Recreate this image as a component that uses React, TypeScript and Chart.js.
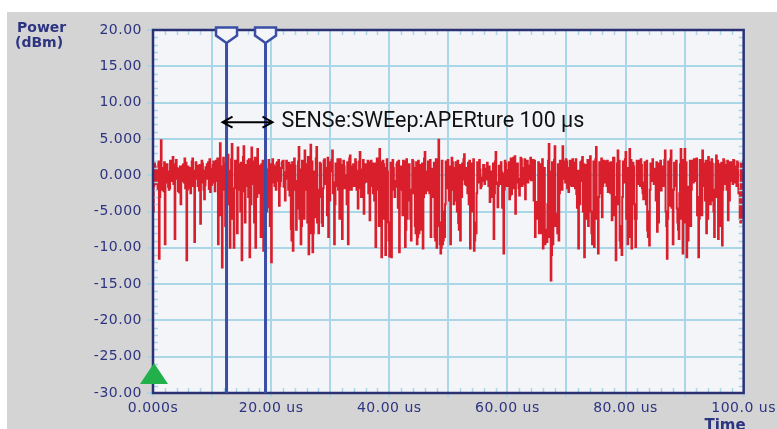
import { useEffect, useRef } from "react";
import { Chart, registerables } from "chart.js";
Chart.register(...registerables);

// ---- data ----
// samples every 1/9 µs, stored as three interleaved runs:
// powerDbm[k] at 3k, powerDbmMid[k] at 3k+1, powerDbmLate[k] at 3k+2
const sampleStepUs = 1 / 9;
const powerDbm = [
  -5.0, 1.2, 0.3, -11.5, 4.8, -1.0, -9.5, 1.5, -2.0, 0.8,
  2.5, -8.8, 1.0, -1.5, -4.0, 1.3, 2.3, -11.7, 0.5, -2.5,
  2.3, -9.2, 1.1, -1.2, -6.7, 1.6, -3.3, 0.9, 1.8, -2.3,
  0.7, -1.0, 2.0, -9.5, 4.4, -12.7, 1.5, -3.0, 2.8, -10.0,
  4.3, -10.0, 1.2, 3.8, -2.0, -11.7, 4.0, -1.5, 2.0, -11.3,
  3.8, -0.5, -10.0, 3.6, -2.5, 1.5, -10.4, 3.8, 0.8, -4.4,
  -12.0, 1.4, 0.2, 1.8, -4.2, 1.0, 2.0, -3.5, 0.6, 1.7,
  -7.4, -10.4, 1.3, -4.6, 3.9, -9.5, -5.3, 3.4, 0.4, -10.9,
  4.2, -10.6, -5.8, 3.9, -8.0, 1.5, -7.0, 2.2, 0.3, -8.5,
  1.8, 3.4, -9.5, 1.0, -2.0, 2.2, -8.8, 1.2, 0.0, -9.5,
  2.7, 1.0, -1.5, 1.8, -4.6, 3.2, 0.8, -5.3, 1.5, 2.0,
  -6.2, 0.9, 1.6, -9.9, 1.2, 3.6, -11.3, 1.5, -11.0, 0.5,
  -11.2, -11.3, 1.0, -1.6, 1.8, -10.6, 1.2, 2.0, -9.9, -6.0,
  1.5, -9.0, 1.9, -7.0, -9.5, -8.0, 1.4, -10.1, 3.2, -2.1,
  1.5, -8.5, 0.9, -8.5, -10.0, 4.9, -10.8, -9.5, -8.5, 1.2,
  -0.7, -9.5, 1.8, 1.0, -3.5, -6.6, -9.0, 1.6, 2.9, -1.4,
  1.7, -10.1, 1.3, -10.4, -8.0, 1.5, 0.8, -0.3, 1.4, 0.2,
  0.9, -3.7, 0.5, -8.8, 3.2, -4.4, 1.1, 0.4, -10.8, 1.6,
  0.7, -3.3, -2.6, 2.4, -5.3, 1.6, -2.8, 2.2, 1.0, -3.3,
  2.0, 1.3, -0.7, 2.1, -8.5, -3.7, -8.0, 1.5, -10.1, -9.5,
  -9.2, 4.3, -14.5, -9.5, 4.0, -5.3, -9.0, 1.2, 4.0, 0.8,
  1.9, -2.3, -1.4, 2.2, 1.1, -2.6, -10.1, 1.8, 2.5, -11.3,
  1.4, -7.0, 2.6, -9.5, -9.9, 3.9, -10.8, 1.5, -5.8, 2.0,
  0.8, -2.3, 1.7, -6.2, 2.4, -11.7, 3.4, -9.0, -11.0, 1.3,
  3.2, -9.5, 3.6, -10.1, 1.2, -9.9, -1.2, 2.0, 1.4, -3.3,
  1.7, -7.6, -9.7, 1.5, 0.9, 0.0, -7.8, 1.6, -2.1, 1.0,
  3.4, -11.5, -4.2, 3.4, -9.5, 1.3, -4.6, -8.8, 3.6, -10.8,
  3.6, -11.3, -1.6, -7.0, 2.0, 1.2, 2.3, -11.3, -4.0, 3.4,
  1.4, -8.0, 2.5, -4.0, 1.6, -8.5, 2.7, -8.8, 1.5, -9.7,
  1.9, 0.8, -6.2, 1.8, 1.1, 2.0, -0.5, 1.7, -6.0, -6.2, 1.8,
];
const powerDbmMid = [
  -1.5, 0.8, -2.0, -3.0, 1.0, -2.2, -1.0, 0.5, -1.8, 1.2,
  -1.2, -0.5, 0.9, -2.4, -0.8, 1.5, -1.8, -2.0, 1.0, -0.6,
  -1.5, -0.5, 1.3, -2.1, -1.0, 0.6, -1.4, 1.5, -1.9, 0.9,
  1.4, -2.2, -0.8, -1.0, -3.5, -2.0, -1.2, 0.8, -4.0, -2.5,
  -6.0, -1.8, 0.5, -1.0, -5.0, -1.5, -2.2, 1.4, -3.0, -2.0,
  -1.2, -6.5, -2.2, -0.5, -1.8, -4.5, -1.0, -2.4, -1.0, -7.0,
  -1.0, 1.2, -2.0, -0.8, -1.5, 1.7, -1.6, -0.5, 1.4, -2.8,
  -9.0, -2.0, -1.5, -0.8, -6.0, -7.0, -1.0, -2.0, -6.5, -3.0,
  -4.5, -8.0, -1.5, -6.5, -2.0, -3.0, -1.8, -1.2, -5.5, -2.0,
  0.5, -2.5, -4.0, -1.5, 0.8, -5.5, -1.5, -1.8, -4.0, -2.0,
  -0.5, 1.2, -1.0, -2.0, -0.8, -1.8, -2.5, -1.0, 0.4, -2.5,
  -1.5, -0.4, -3.5, -2.0, -1.0, -5.0, -2.5, -6.0, -4.0, -6.5,
  -8.0, -2.0, -0.8, -1.0, -4.5, -2.0, 0.6, -3.5, -7.5, -2.0,
  -3.5, -2.0, -2.5, -8.0, -8.5, -3.0, -4.5, -3.0, -2.5, -1.0,
  -2.5, -1.5, -3.0, -9.0, -7.0, -6.5, -10.0, -9.0, -4.0, -1.8,
  -3.5, -2.0, 0.8, -1.2, -5.0, -7.5, -2.5, -0.6, -1.2, -0.5,
  -4.0, -2.5, -5.0, -9.0, -2.5, -1.0, -1.8, -0.8, -1.2, -0.6,
  -1.5, -1.0, -3.0, -2.5, -1.0, -1.5, -1.2, -4.5, -2.0, -0.5,
  -1.2, -2.8, -1.0, -1.8, -1.0, -1.0, -0.5, -1.5, -1.2, -0.8,
  -1.0, 0.5, 0.8, -3.5, -6.0, -5.5, -2.5, -7.0, -9.5, -8.0,
  -4.0, -8.5, -11.0, -3.5, -7.0, -8.0, -2.5, -1.5, -0.5, -1.0,
  -1.8, -0.6, 0.5, -1.5, -1.8, -4.5, -3.0, -0.8, -5.0, -2.5,
  -3.5, -2.0, -5.0, -9.0, -2.0, -6.0, -3.0, -2.5, -1.5, -1.0,
  -1.5, -0.8, -2.5, -1.8, -5.5, -3.0, -4.0, -10.0, -3.0, -1.0,
  -6.0, -2.0, -5.5, -3.5, -4.0, -6.0, 0.2, -1.5, -1.8, -1.0,
  -4.0, -8.5, -2.0, -0.8, -1.2, -3.5, -2.5, -1.0, -0.8, -1.5,
  -5.0, -6.0, -1.0, -4.5, -2.0, -1.5, -6.5, -2.5, -6.0, -4.0,
  -6.5, -4.0, -4.5, -2.0, -1.0, -0.8, -5.5, -6.0, -1.0, -1.5,
  -3.5, -2.0, -1.2, -1.5, -3.5, -2.0, -3.0, -2.0, -4.5, -2.0,
  -1.2, -2.0, -1.5, -0.8, -1.2, -1.0, -1.5, -2.5, -6.5, -2.0,
];
const powerDbmLate = [
  1.6, -1.2, 1.9, 0.5, -2.0, 1.8, 0.2, -1.6, 2.0, -0.8,
  1.5, 2.1, -2.2, 1.2, 0.4, -1.0, 1.7, 1.2, -1.8, 1.9,
  0.6, 1.8, -1.5, 1.4, 2.0, -2.0, 1.1, -0.5, 2.2, -1.3,
  1.9, 0.8, 2.3, -5.5, 1.2, 2.4, -7.0, 1.9, 0.6, 2.2,
  -3.5, 2.0, -8.0, 1.5, 1.7, 2.5, -6.5, 1.0, 2.2, -4.0,
  1.9, 2.4, -3.0, 1.3, -8.5, 2.0, 1.2, -5.0, 2.1, 1.5,
  2.2, -1.5, 1.6, 2.1, -0.8, 1.9, 0.4, 2.0, -2.0, 1.4,
  1.8, 2.3, -7.5, 1.9, 0.8, 2.0, -6.0, 1.5, 2.5, -8.0,
  1.9, 0.5, 2.3, -5.0, 1.7, -6.5, 2.0, 1.0, 2.4, -3.5,
  2.1, -1.0, 1.6, 2.2, -6.0, 1.4, 2.0, -1.2, 1.8, 2.3,
  -2.0, 1.5, 2.2, 0.6, 1.9, -3.0, 2.1, 1.2, -0.9, 1.8,
  2.0, -2.5, 1.6, 2.3, -7.0, 1.8, 2.0, 1.0, 2.2, -9.0,
  1.7, 2.1, -3.0, 1.5, 2.0, 0.8, -5.5, 1.9, 2.2, 1.4,
  -6.0, 2.1, 1.0, 1.8, 2.0, -7.5, 1.6, 2.3, 0.5, 1.9,
  2.1, -2.0, 1.7, 2.2, 1.5, -9.5, 2.0, -5.0, 1.9, 2.1,
  1.2, 2.4, -4.0, 1.8, 2.0, 1.4, -3.0, 2.2, 1.0, -2.5,
  2.0, 1.6, 2.2, -6.5, 1.8, 2.1, -1.5, 1.4, 0.9, 1.7,
  1.2, -0.6, 1.6, 1.9, -1.2, 1.3, 1.8, 0.2, 2.0, -1.5,
  1.8, 2.3, 0.9, 2.6, 1.5, -1.8, 2.4, 0.6, 2.2, 1.8,
  -0.5, 2.4, 1.6, 2.0, -6.0, 1.8, -8.0, 2.2, 1.0, -7.5,
  2.0, 0.5, 1.8, 2.1, -6.5, 1.5, 2.0, -2.0, 1.9, 2.2,
  1.0, 2.0, -1.5, 1.7, 2.2, 0.6, -4.0, 2.0, 1.5, -6.0,
  2.1, 1.4, -8.0, 1.9, 2.2, -5.5, 1.8, 2.3, 0.8, 1.9,
  2.0, -1.2, 1.8, 2.4, -4.5, 1.6, 2.0, -7.0, 1.9, 2.2,
  1.0, -8.5, 2.1, 1.7, -6.0, 2.0, 1.5, 2.2, -2.5, 1.8,
  2.0, -5.0, 1.6, 2.2, 0.9, 1.8, -6.5, 2.0, 1.2, 2.1,
  -7.0, 1.9, 2.2, -3.5, 1.7, 2.0, -7.5, 1.5, 2.1, -6.0,
  1.8, -9.0, 2.0, 1.4, 2.2, 1.8, -3.0, 2.1, -5.5, 1.6,
  2.0, -6.0, 1.8, 2.2, -5.0, 1.5, 2.0, -7.0, 1.7, 2.2,
  1.4, 2.0, -3.5, 1.8, 2.1, 1.2, 1.9, -2.0, 1.6, 2.0,
];

const xLabelTimes = [0, 20, 40, 60, 80, 100];
const xLabelTexts = ["0.000s", "20.00 us", "40.00 us", "60.00 us", "80.00 us", "100.0 us"];
const yTickValues = [20, 15, 10, 5, 0, -5, -10, -15, -20, -25, -30];
const yTickLabels = ["20.00", "15.00", "10.00", "5.000", "0.000", "-5.000", "-10.00", "-15.00", "-20.00", "-25.00", "-30.00"];
const markerTimesUs = [12.45, 19.05];
const annotationText = "SENSe:SWEep:APERture 100 µs";
const annotationLevelDbm = 7.3;
const yTitleLines = ["Power", "(dBm)"];
const xTitle = "Time";
const triggerTimeUs = 0;

// ---- style ----
const NAVY = "#2d3480";
const FRAME = "#2a3275";
const GRID = "#a9d7e8";
const PLOT_BG = "#f3f5f8";
const TRACE = "#d91e2c";
const MARKER = "#3a4ea6";
const GREEN = "#22b04a";

export default function App() {
  const ref = useRef<HTMLCanvasElement | null>(null);

  useEffect(() => {
    const canvas = ref.current;
    if (!canvas) return;
    const points: { x: number; y: number }[] = [];
    powerDbm.forEach((v, k) => {
      points.push({ x: 3 * k * sampleStepUs, y: v });
      if (k < powerDbmMid.length) {
        points.push({ x: (3 * k + 1) * sampleStepUs, y: powerDbmMid[k] });
        points.push({ x: (3 * k + 2) * sampleStepUs, y: powerDbmLate[k] });
      }
    });

    const bgPlugin = {
      id: "bg",
      beforeDraw(chart: any) {
        const { ctx, chartArea: a } = chart;
        (ctx as any).letterSpacing = "0.5px";
        ctx.save();
        ctx.fillStyle = PLOT_BG;
        ctx.fillRect(a.left, a.top, a.right - a.left, a.bottom - a.top);
        ctx.restore();
      },
    };

    const decorPlugin = {
      id: "decor",
      afterDraw(chart: any) {
        const { ctx, chartArea: a } = chart;
        const xs = chart.scales.x;
        const ys = chart.scales.y;
        ctx.save();
        (ctx as any).letterSpacing = "0px";

        // minor ticks inside frame
        ctx.strokeStyle = GRID;
        ctx.lineWidth = 1.5;
        ctx.beginPath();
        for (let t = 2; t < 100; t += 2) {
          if (t % 10 === 0) continue;
          const x = Math.round(xs.getPixelForValue(t)) + 0.5;
          ctx.moveTo(x, a.top);
          ctx.lineTo(x, a.top + 5);
          ctx.moveTo(x, a.bottom);
          ctx.lineTo(x, a.bottom - 5);
        }
        for (let v = -29; v < 20; v += 1) {
          if (v % 5 === 0) continue;
          const y = Math.round(ys.getPixelForValue(v)) + 0.5;
          ctx.moveTo(a.left, y);
          ctx.lineTo(a.left + 5, y);
          ctx.moveTo(a.right, y);
          ctx.lineTo(a.right - 5, y);
        }
        ctx.stroke();

        // frame
        ctx.strokeStyle = FRAME;
        ctx.lineWidth = 2.5;
        ctx.strokeRect(a.left, a.top, a.right - a.left, a.bottom - a.top);

        // markers
        const mx = markerTimesUs.map((t) => xs.getPixelForValue(t));
        mx.forEach((x) => {
          ctx.strokeStyle = MARKER;
          ctx.lineWidth = 3;
          ctx.beginPath();
          ctx.moveTo(x, a.top + 13);
          ctx.lineTo(x, a.bottom);
          ctx.stroke();
          ctx.beginPath();
          ctx.moveTo(x - 10.5, a.top - 2.5);
          ctx.lineTo(x + 10.5, a.top - 2.5);
          ctx.lineTo(x + 10.5, a.top + 5.5);
          ctx.lineTo(x, a.top + 13);
          ctx.lineTo(x - 10.5, a.top + 5.5);
          ctx.closePath();
          ctx.fillStyle = PLOT_BG;
          ctx.fill();
          ctx.lineWidth = 2.5;
          ctx.stroke();
        });

        // arrow
        const ay = ys.getPixelForValue(annotationLevelDbm);
        const x1 = mx[0] - 4;
        const x2 = mx[1] + 7;
        ctx.strokeStyle = "#000";
        ctx.lineWidth = 2;
        ctx.beginPath();
        ctx.moveTo(x1, ay);
        ctx.lineTo(x2, ay);
        ctx.moveTo(x1 + 10, ay - 5.5);
        ctx.lineTo(x1, ay);
        ctx.lineTo(x1 + 10, ay + 5.5);
        ctx.moveTo(x2 - 10, ay - 5.5);
        ctx.lineTo(x2, ay);
        ctx.lineTo(x2 - 10, ay + 5.5);
        ctx.stroke();

        ctx.fillStyle = "#111";
        ctx.font = "21.5px Roboto";
        ctx.textAlign = "left";
        ctx.textBaseline = "alphabetic";
        ctx.fillText(annotationText, x2 + 9, ay + 4.5);

        // trigger triangle
        const tx = xs.getPixelForValue(triggerTimeUs);
        ctx.fillStyle = GREEN;
        ctx.beginPath();
        ctx.moveTo(tx + 1, a.bottom - 30);
        ctx.lineTo(tx + 15, a.bottom - 9);
        ctx.lineTo(tx - 13, a.bottom - 9);
        ctx.closePath();
        ctx.fill();

        // titles
        ctx.fillStyle = NAVY;
        ctx.font = "bold 14px 'DejaVu Sans'";
        ctx.textAlign = "left";
        ctx.fillText(yTitleLines[0], 17, 32);
        ctx.fillText(yTitleLines[1], 15, 47);
        ctx.font = "bold 15px 'DejaVu Sans'";
        ctx.textAlign = "right";
        ctx.fillText(xTitle, a.right + 2, 430);
        ctx.restore();
      },
    };

    const chart = new Chart(canvas, {
      type: "line",
      data: {
        datasets: [
          {
            data: points,
            borderColor: TRACE,
            borderWidth: 2,
            pointRadius: 0,
            stepped: true,
            fill: false,
          },
        ],
      },
      options: {
        responsive: false,
        animation: false,
        events: [],
        layout: { padding: { top: 30, right: 32, left: 0, bottom: 0 } },
        plugins: { legend: { display: false }, tooltip: { enabled: false }, title: { display: false } },
        scales: {
          x: {
            type: "linear",
            min: 0,
            max: 100,
            afterFit: (s: any) => {
              s.height = 36;
            },
            afterBuildTicks: (s: any) => {
              const t: any[] = [];
              for (let v = 0; v <= 100; v += 10) t.push({ value: v });
              s.ticks = t;
            },
            border: { display: false },
            grid: { color: GRID, lineWidth: 2, tickLength: 4, drawTicks: true },
            ticks: {
              autoSkip: false,
              maxRotation: 0,
              padding: 3,
              color: NAVY,
              font: { family: "DejaVu Sans", size: 14 },
              callback: (v: any) => {
                const i = xLabelTimes.indexOf(Number(v));
                return i >= 0 ? xLabelTexts[i] : "";
              },
            },
          },
          y: {
            type: "linear",
            min: -30,
            max: 20,
            afterFit: (s: any) => {
              s.width = 153;
            },
            afterBuildTicks: (s: any) => {
              s.ticks = yTickValues.map((v) => ({ value: v }));
            },
            border: { display: false },
            grid: { color: GRID, lineWidth: 2, tickLength: 6, drawTicks: true },
            ticks: {
              autoSkip: false,
              padding: 5,
              color: NAVY,
              font: { family: "DejaVu Sans", size: 14 },
              callback: (v: any) => {
                const i = yTickValues.indexOf(Number(v));
                return i >= 0 ? yTickLabels[i] : "";
              },
            },
          },
        },
      },
      plugins: [bgPlugin, decorPlugin],
    } as any);
    return () => chart.destroy();
  }, []);

  return (
    <div style={{ position: "absolute", left: 0, top: 0, width: 777, height: 429, background: "#fff", overflow: "hidden" }}>
      <div style={{ position: "absolute", left: 7, top: 12, width: 770, height: 417, background: "#d4d4d4" }} />
      <canvas ref={ref} width={777} height={429} style={{ position: "absolute", left: 0, top: 0, width: 777, height: 429 }} />
    </div>
  );
}
